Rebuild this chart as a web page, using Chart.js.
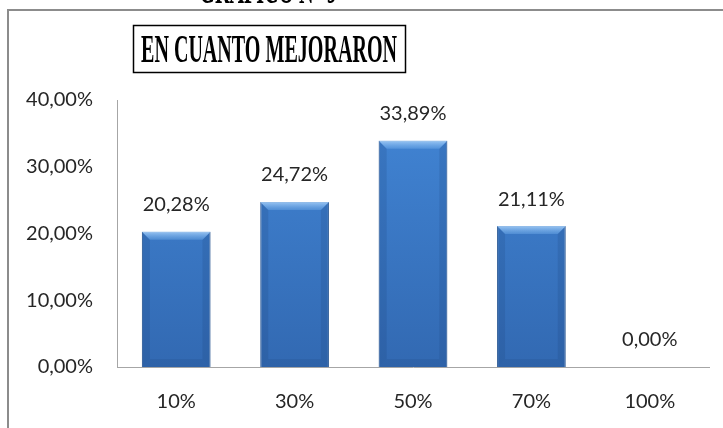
<!DOCTYPE html>
<html>
<head>
<meta charset="utf-8">
<script src="https://cdn.jsdelivr.net/npm/chart.js@4"></script>
<style>
  html, body { margin: 0; padding: 0; background: #fff; }
  #wrap { width: 723px; height: 428px; position: relative; }
</style>
</head>
<body>
<div id="wrap"><canvas id="grafico"></canvas></div>
<script>
const categorias = ['10%', '30%', '50%', '70%', '100%'];
const valores = [20.28, 24.72, 33.89, 21.11, 0.00];
const tituloGrafico = 'GRAFICO N° 9';
const tituloCuadro = 'EN CUANTO MEJORARON';

const fuente = 'Lato, Calibri, sans-serif';

function pct(v) {
    return v.toFixed(2).replace('.', ',') + '%';
}

// frame, top heading and the boxed title
const marco = {
    id: 'marco',
    beforeDraw(chart) {
        const ctx = chart.ctx;
        ctx.save();
        ctx.strokeStyle = '#8c8c8c';
        ctx.lineWidth = 2;
        ctx.beginPath();
        ctx.moveTo(8, chart.height + 2);
        ctx.lineTo(8, 10);
        ctx.lineTo(chart.width + 2, 10);
        ctx.stroke();

        ctx.fillStyle = '#000';
        ctx.textBaseline = 'alphabetic';
        ctx.textAlign = 'left';
        ctx.font = 'bold 39px "Liberation Serif", "Times New Roman", serif';

        // boxed title, squeezed like the original
        let w = ctx.measureText(tituloCuadro).width;
        let sx = 256 / w;
        ctx.save();
        ctx.translate(141, 62);
        ctx.scale(sx, 1);
        ctx.fillText(tituloCuadro, 0, 0);
        ctx.restore();

        ctx.lineWidth = 1.5;
        ctx.strokeStyle = '#000';
        ctx.strokeRect(133.5, 25.5, 272, 47);

        // heading cut at the top edge
        w = ctx.measureText(tituloGrafico).width;
        ctx.save();
        ctx.translate(268 - w * sx / 2, 3);
        ctx.scale(sx, 1);
        ctx.fillText(tituloGrafico, 0, 0);
        ctx.restore();
        ctx.restore();
    },
    afterDatasetsDraw(chart) {
        const ctx = chart.ctx;
        const meta = chart.getDatasetMeta(0);
        ctx.save();
        meta.data.forEach((bar, i) => {
            const left = bar.x - bar.width / 2;
            const right = bar.x + bar.width / 2;
            const top = bar.y;
            const h = bar.base - bar.y;
            if (h > 2) {
                const b = 8;
                // side bevels
                ctx.fillStyle = 'rgba(25,60,115,0.17)';
                ctx.beginPath();
                ctx.moveTo(left, top);
                ctx.lineTo(left + b, top + b);
                ctx.lineTo(left + b, bar.base - b);
                ctx.lineTo(left, bar.base);
                ctx.closePath();
                ctx.fill();
                ctx.beginPath();
                ctx.moveTo(right, top);
                ctx.lineTo(right - b, top + b);
                ctx.lineTo(right - b, bar.base - b);
                ctx.lineTo(right, bar.base);
                ctx.closePath();
                ctx.fill();
                // bottom bevel
                ctx.fillStyle = 'rgba(25,60,115,0.15)';
                ctx.beginPath();
                ctx.moveTo(left, bar.base);
                ctx.lineTo(left + b, bar.base - b);
                ctx.lineTo(right - b, bar.base - b);
                ctx.lineTo(right, bar.base);
                ctx.closePath();
                ctx.fill();
                // lighter top bevel
                const gt = ctx.createLinearGradient(0, top, 0, top + b);
                gt.addColorStop(0, 'rgba(170,210,250,0.85)');
                gt.addColorStop(1, 'rgba(120,180,240,0.35)');
                ctx.fillStyle = gt;
                ctx.beginPath();
                ctx.moveTo(left, top);
                ctx.lineTo(right, top);
                ctx.lineTo(right - b, top + b);
                ctx.lineTo(left + b, top + b);
                ctx.closePath();
                ctx.fill();
            }
            // value label above the bar
            ctx.fillStyle = '#262626';
            ctx.font = '20px ' + fuente;
            ctx.textAlign = 'center';
            ctx.textBaseline = 'middle';
            ctx.fillText(pct(valores[i]), bar.x, top - 27);
        });
        ctx.restore();
    }
};

const ctx = document.getElementById('grafico').getContext('2d');

new Chart(ctx, {
    type: 'bar',
    data: {
        labels: categorias,
        datasets: [{
            data: valores,
            backgroundColor: (c) => {
                const area = c.chart.chartArea;
                if (!area) return '#3a76c2';
                const g = c.chart.ctx.createLinearGradient(0, area.top, 0, area.bottom);
                g.addColorStop(0, '#4286d6');
                g.addColorStop(1, '#3269b2');
                return g;
            },
            borderColor: '#2f5f9e',
            borderWidth: 1,
            categoryPercentage: 1,
            barPercentage: 0.58
        }]
    },
    options: {
        responsive: true,
        maintainAspectRatio: false,
        animation: false,
        layout: { padding: { top: 100, right: 14, left: 0, bottom: 0 } },
        plugins: {
            legend: { display: false },
            title: { display: false },
            tooltip: { enabled: false }
        },
        scales: {
            x: {
                grid: { display: false, drawTicks: false },
                border: { color: '#a6a6a6', width: 1 },
                ticks: {
                    color: '#262626',
                    font: { family: fuente, size: 20 },
                    padding: 23
                },
                afterFit(s) { s.height = 61; }
            },
            y: {
                min: 0,
                max: 40,
                grid: { display: false, drawTicks: false },
                border: { color: '#a6a6a6', width: 1 },
                ticks: {
                    stepSize: 10,
                    color: '#262626',
                    font: { family: fuente, size: 20 },
                    padding: 24,
                    callback: v => pct(v)
                },
                afterFit(s) { s.width = 117; }
            }
        }
    },
    plugins: [marco]
});
</script>
</body>
</html>
